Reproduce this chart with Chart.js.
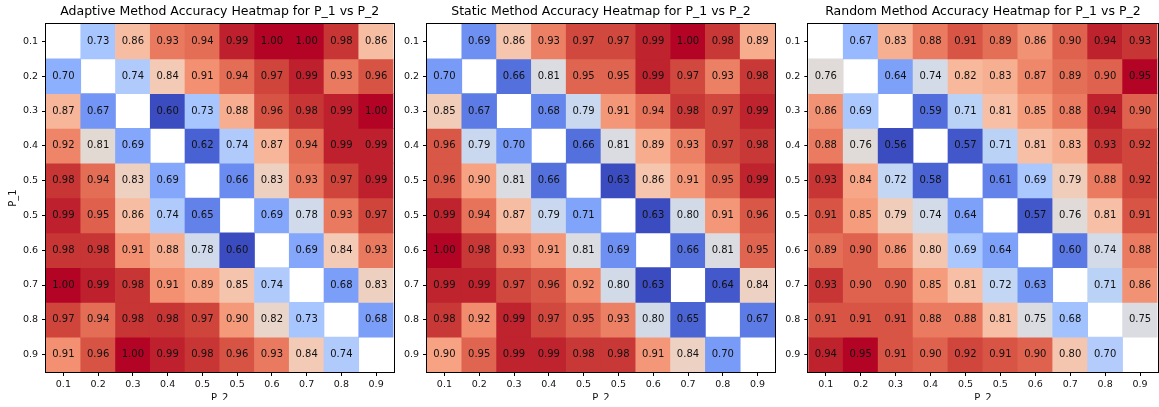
<!DOCTYPE html>
<html><head><meta charset="utf-8">
<script src="https://cdn.jsdelivr.net/npm/chart.js@4/dist/chart.umd.min.js"></script>
<style>
html,body{margin:0;padding:0;background:#fff;width:1159px;height:407px;overflow:hidden}
.p{position:absolute;top:0;height:400px}
canvas{display:block}
</style></head><body>
<div class="p" style="left:0;width:400px"><canvas id="c1" width="400" height="400"></canvas></div>
<div class="p" style="left:400px;width:380px"><canvas id="c2" width="380" height="400"></canvas></div>
<div class="p" style="left:780px;width:379px"><canvas id="c3" width="379" height="400"></canvas></div>
<script>
const P2_LABELS = ["0.1","0.2","0.3","0.4","0.5","0.5","0.6","0.7","0.8","0.9"];
const P1_LABELS = ["0.1","0.2","0.3","0.4","0.5","0.5","0.6","0.7","0.8","0.9"];
const TITLES = [
  "Adaptive Method Accuracy Heatmap for P_1 vs P_2",
  "Static Method Accuracy Heatmap for P_1 vs P_2",
  "Random Method Accuracy Heatmap for P_1 vs P_2"
];
const adaptiveAcc = [
  [null,0.73,0.86,0.93,0.94,0.99,1.00,1.00,0.98,0.86],
  [0.70,null,0.74,0.84,0.91,0.94,0.97,0.99,0.93,0.96],
  [0.87,0.67,null,0.60,0.73,0.88,0.96,0.98,0.99,1.00],
  [0.92,0.81,0.69,null,0.62,0.74,0.87,0.94,0.99,0.99],
  [0.98,0.94,0.83,0.69,null,0.66,0.83,0.93,0.97,0.99],
  [0.99,0.95,0.86,0.74,0.65,null,0.69,0.78,0.93,0.97],
  [0.98,0.98,0.91,0.88,0.78,0.60,null,0.69,0.84,0.93],
  [1.00,0.99,0.98,0.91,0.89,0.85,0.74,null,0.68,0.83],
  [0.97,0.94,0.98,0.98,0.97,0.90,0.82,0.73,null,0.68],
  [0.91,0.96,1.00,0.99,0.98,0.96,0.93,0.84,0.74,null]
];
const staticAcc = [
  [null,0.69,0.86,0.93,0.97,0.97,0.99,1.00,0.98,0.89],
  [0.70,null,0.66,0.81,0.95,0.95,0.99,0.97,0.93,0.98],
  [0.85,0.67,null,0.68,0.79,0.91,0.94,0.98,0.97,0.99],
  [0.96,0.79,0.70,null,0.66,0.81,0.89,0.93,0.97,0.98],
  [0.96,0.90,0.81,0.66,null,0.63,0.86,0.91,0.95,0.99],
  [0.99,0.94,0.87,0.79,0.71,null,0.63,0.80,0.91,0.96],
  [1.00,0.98,0.93,0.91,0.81,0.69,null,0.66,0.81,0.95],
  [0.99,0.99,0.97,0.96,0.92,0.80,0.63,null,0.64,0.84],
  [0.98,0.92,0.99,0.97,0.95,0.93,0.80,0.65,null,0.67],
  [0.90,0.95,0.99,0.99,0.98,0.98,0.91,0.84,0.70,null]
];
const randomAcc = [
  [null,0.67,0.83,0.88,0.91,0.89,0.86,0.90,0.94,0.93],
  [0.76,null,0.64,0.74,0.82,0.83,0.87,0.89,0.90,0.95],
  [0.86,0.69,null,0.59,0.71,0.81,0.85,0.88,0.94,0.90],
  [0.88,0.76,0.56,null,0.57,0.71,0.81,0.83,0.93,0.92],
  [0.93,0.84,0.72,0.58,null,0.61,0.69,0.79,0.88,0.92],
  [0.91,0.85,0.79,0.74,0.64,null,0.57,0.76,0.81,0.91],
  [0.89,0.90,0.86,0.80,0.69,0.64,null,0.60,0.74,0.88],
  [0.93,0.90,0.90,0.85,0.81,0.72,0.63,null,0.71,0.86],
  [0.91,0.91,0.91,0.88,0.88,0.81,0.75,0.68,null,0.75],
  [0.94,0.95,0.91,0.90,0.92,0.91,0.90,0.80,0.70,null]
];

// coolwarm colormap (Moreland), 33 control points
const COOLWARM = [
[59,76,192],[68,90,204],[77,104,215],[87,117,225],[98,130,234],[108,142,241],[119,154,247],[130,165,251],
[141,176,254],[152,185,255],[163,194,255],[174,201,253],[184,208,249],[194,213,244],[204,217,238],[213,219,230],
[221,221,221],[229,216,209],[236,211,197],[241,204,184],[245,196,173],[247,187,160],[247,177,148],[247,166,135],
[244,154,123],[241,141,111],[236,127,99],[229,112,88],[222,96,77],[213,80,66],[203,62,56],[192,40,47],[180,4,38]];
function coolwarm(t){
  t = Math.max(0, Math.min(1, t));
  const f = t*(COOLWARM.length-1), i = Math.min(Math.floor(f), COOLWARM.length-2), u = f-i;
  const a = COOLWARM[i], b = COOLWARM[i+1];
  return 'rgb(' + a.map((v,k)=>Math.round(v+(b[k]-v)*u)).join(',') + ')';
}

const FONT = '"DejaVu Sans", "Liberation Sans", sans-serif';
const TXT = '#111';

const annotPlugin = {
  id: 'annot',
  afterDatasetsDraw(chart){
    const ctx = chart.ctx;
    ctx.save();
    ctx.font = '10px ' + FONT;
    ctx.fillStyle = TXT;
    ctx.textAlign = 'center';
    ctx.textBaseline = 'middle';
    chart.data.datasets.forEach((ds, i) => {
      const meta = chart.getDatasetMeta(i);
      meta.data.forEach((el, j) => {
        const v = ds.values[j];
        if (v === null || v === undefined) return;
        const p = el.getProps(['x','y','base'], true);
        ctx.fillText(v.toFixed(2), p.x, (p.y + p.base)/2);
      });
    });
    const a = chart.chartArea;
    ctx.strokeStyle = '#000';
    ctx.lineWidth = 1;
    ctx.strokeRect(Math.round(a.left)-0.5, Math.round(a.top)-0.5, Math.round(a.right)-Math.round(a.left)+1, Math.round(a.bottom)-Math.round(a.top)+1);
    ctx.restore();
  }
};

function makeChart(id, title, matrix, cfg){
  const vals = matrix.flat().filter(v => v !== null);
  const vmin = Math.min(...vals), vmax = Math.max(...vals);
  const datasets = matrix.map((row, r) => ({
    label: P1_LABELS[r],
    data: row.map(v => v === null ? null : [r, r+1]),
    values: row,
    backgroundColor: row.map(v => v === null ? 'rgba(0,0,0,0)' : coolwarm((v - vmin)/(vmax - vmin))),
    grouped: false,
    barPercentage: 1,
    categoryPercentage: 1,
    borderWidth: 0,
    yAxisID: 'y',
    xAxisID: 'x'
  }));
  const gridOpts = {display:true, drawOnChartArea:false, offset:false, tickLength:4, color:'#000', tickColor:'#000', tickWidth:1};
  return new Chart(document.getElementById(id), {
    type: 'bar',
    data: { labels: P2_LABELS, datasets },
    options: {
      responsive: false,
      animation: false,
      events: [],
      layout: { padding: { left: 0, right: cfg.padRight, top: 0, bottom: 0 } },
      plugins: {
        legend: { display: false },
        tooltip: { enabled: false },
        title: { display: true, text: title, fullSize: false, color: '#000',
                 font: { family: FONT, size: 12.5, weight: 'normal' },
                 padding: { top: 4, bottom: 5 } }
      },
      scales: {
        x: { type: 'category', position: 'bottom', offset: true,
             grid: gridOpts, border: { display: false },
             ticks: { font: { family: FONT, size: 9.5 }, color: TXT, padding: 3, maxRotation: 0, autoSkip: false },
             title: { display: true, text: 'P_2', color: TXT, font: { family: FONT, size: 10 }, padding: { top: 0, bottom: -4.8 } },
             afterFit(s){ s.height = 28; } },
        y: { type: 'linear', min: 0, max: 10, reverse: true, display: false },
        yl: { type: 'category', position: 'left', labels: P1_LABELS, offset: true,
              grid: gridOpts, border: { display: false },
              ticks: { font: { family: FONT, size: 9.5 }, color: TXT, padding: 4, autoSkip: false },
              title: { display: cfg.showY, text: 'P_1', color: TXT, font: { family: FONT, size: 10 }, padding: { top: 7, bottom: 0 } },
              afterFit(s){ s.width = cfg.axisW; } }
      }
    },
    plugins: [annotPlugin]
  });
}

makeChart('c1', TITLES[0], adaptiveAcc, { padRight: 6.5, axisW: 46, showY: true });
makeChart('c2', TITLES[1], staticAcc, { padRight: 5, axisW: 27, showY: false });
makeChart('c3', TITLES[2], randomAcc, { padRight: 1.5, axisW: 28.3, showY: false });
</script>
</body></html>
